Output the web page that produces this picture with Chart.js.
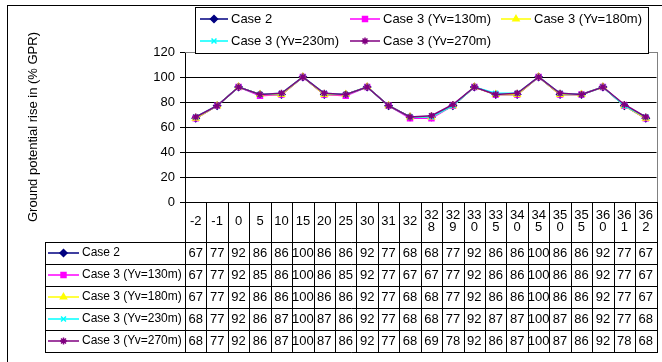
<!DOCTYPE html>
<html lang="en">
<head>
    <meta charset="UTF-8">
    <title>Ground potential rise</title>
    <script src="https://cdn.jsdelivr.net/npm/chart.js@4.4.1/dist/chart.umd.min.js"></script>
    <style>
        html, body { margin: 0; padding: 0; background: #fff; }
        canvas { display: block; }
    </style>
</head>
<body>
<canvas id="canvas" width="662" height="362"></canvas>
<script>
    // distance labels along the route
    var categories = ['-2', '-1', '0', '5', '10', '15', '20', '25', '30', '31', '32',
        '328', '329', '330', '335', '340', '345', '350', '355', '360', '361', '362'];

    var seriesNames = ['Case 2', 'Case 3 (Yv=130m)', 'Case 3 (Yv=180m)', 'Case 3 (Yv=230m)', 'Case 3 (Yv=270m)'];

    var case2  = [67, 77, 92, 86, 86, 100, 86, 86, 92, 77, 68, 68, 77, 92, 86, 86, 100, 86, 86, 92, 77, 67];
    var yv130  = [67, 77, 92, 85, 86, 100, 86, 85, 92, 77, 67, 67, 77, 92, 86, 86, 100, 86, 86, 92, 77, 67];
    var yv180  = [67, 77, 92, 86, 86, 100, 86, 86, 92, 77, 68, 68, 77, 92, 86, 86, 100, 86, 86, 92, 77, 67];
    var yv230  = [68, 77, 92, 86, 87, 100, 87, 86, 92, 77, 68, 68, 77, 92, 87, 87, 100, 87, 86, 92, 77, 68];
    var yv270  = [68, 77, 92, 86, 87, 100, 87, 86, 92, 77, 68, 69, 78, 92, 86, 87, 100, 87, 86, 92, 78, 68];

    var yTitle = 'Ground potential rise in (% GPR)';

    var FAMILY = '"Liberation Sans", Arial, sans-serif';
    var FONT = '13px ' + FAMILY;
    var colors = ['#000080', '#FF00FF', '#FFFF00', '#00FFFF', '#800080'];
    var markers = ['rectRot', 'rect', 'triangle', 'crossRot', 'star'];
    var values = [case2, yv130, yv180, yv230, yv270];

    var datasets = seriesNames.map(function(name, i) {
        return {
            label: name,
            data: values[i],
            borderColor: colors[i],
            backgroundColor: colors[i],
            borderWidth: 1.5,
            pointStyle: markers[i],
            pointRadius: 3.5,
            pointBorderWidth: 1.5,
            tension: 0,
            order: seriesNames.length - i   // last series ends up on top
        };
    });

    function drawKey(ctx, i, x1, x2, y) {
        ctx.save();
        ctx.strokeStyle = colors[i];
        ctx.fillStyle = colors[i];
        ctx.lineWidth = 1.5;
        ctx.beginPath();
        ctx.moveTo(x1, y);
        ctx.lineTo(x2, y);
        ctx.stroke();
        Chart.helpers.drawPoint(ctx, {pointStyle: markers[i], radius: 3.5, rotation: 0, borderWidth: 1.5}, (x1 + x2) / 2, y);
        ctx.restore();
    }

    function hline(ctx, x1, x2, y) {
        ctx.beginPath();
        ctx.moveTo(x1, Math.round(y) + 0.5);
        ctx.lineTo(x2, Math.round(y) + 0.5);
        ctx.stroke();
    }

    function vline(ctx, x, y1, y2) {
        ctx.beginPath();
        ctx.moveTo(Math.round(x) + 0.5, y1);
        ctx.lineTo(Math.round(x) + 0.5, y2);
        ctx.stroke();
    }

    // frame, legend box, axis title and the data table under the plot
    var sheetPlugin = {
        id: 'sheet',
        beforeDraw: function(chart) {
            var ctx = chart.ctx;
            ctx.save();
            ctx.fillStyle = '#fff';
            ctx.fillRect(0, 0, chart.width, chart.height);
            ctx.strokeStyle = '#000';
            ctx.lineWidth = 1;
            ctx.strokeRect(7.5, 5.5, chart.width + 10, chart.height + 10);
            ctx.restore();
        },
        afterDraw: function(chart) {
            var ctx = chart.ctx;
            var area = chart.chartArea;
            var xs = chart.scales.x;
            var colW = (area.right - area.left) / categories.length;
            var headTop = area.bottom, headBot = area.bottom + 40, rowH = 22;
            var tableLeft = 45;
            var tableBot = headBot + rowH * seriesNames.length;

            ctx.save();
            // plot area border (top and right)
            ctx.strokeStyle = '#808080';
            ctx.lineWidth = 1;
            hline(ctx, area.left, area.right + 1, area.top);
            vline(ctx, area.right, area.top, area.bottom);

            // table grid
            ctx.strokeStyle = '#000';
            for (var r = 0; r <= seriesNames.length; r++) {
                hline(ctx, tableLeft, area.right + 1, headBot + r * rowH);
            }
            vline(ctx, tableLeft, headBot, tableBot + 1);
            for (var c = 0; c <= categories.length; c++) {
                vline(ctx, area.left + c * colW, headTop, tableBot + 1);
            }

            // column headers, wrapped when the cell is too narrow
            ctx.fillStyle = '#000';
            ctx.font = FONT;
            ctx.textAlign = 'center';
            ctx.textBaseline = 'middle';
            categories.forEach(function(lab, j) {
                var cx = xs.getPixelForValue(j);
                if (lab.length > 2) {
                    ctx.fillText(lab.slice(0, 2), cx, headTop + 13);
                    ctx.fillText(lab.slice(2), cx, headTop + 25);
                } else {
                    ctx.fillText(lab, cx, headTop + 19);
                }
            });

            // table rows
            seriesNames.forEach(function(name, i) {
                var cy = headBot + i * rowH + rowH / 2;
                drawKey(ctx, i, 48, 79, cy);
                ctx.fillStyle = '#000';
                ctx.textAlign = 'left';
                ctx.font = '12px ' + FAMILY;
                ctx.fillText(name, 82, cy);
                ctx.font = FONT;
                ctx.textAlign = 'center';
                values[i].forEach(function(v, j) {
                    ctx.fillText(String(v), xs.getPixelForValue(j), cy);
                });
            });

            // legend box
            ctx.fillStyle = '#fff';
            ctx.fillRect(195, 7, 453, 46);
            ctx.strokeStyle = '#000';
            ctx.strokeRect(195.5, 7.5, 453, 46);
            var slots = [[200, 228, 231, 19], [350, 380, 383, 19], [501, 531, 534, 19],
                         [200, 228, 231, 41], [350, 380, 383, 41]];
            seriesNames.forEach(function(name, i) {
                var s = slots[i];
                drawKey(ctx, i, s[0], s[1], s[3]);
                ctx.fillStyle = '#000';
                ctx.textAlign = 'left';
                ctx.fillText(name, s[2], s[3]);
            });

            // y axis title
            ctx.translate(33, 127);
            ctx.rotate(-Math.PI / 2);
            ctx.textAlign = 'center';
            ctx.fillText(yTitle, 0, 0);
            ctx.restore();
        }
    };

    window.onload = function() {
        var ctx = document.getElementById('canvas').getContext('2d');
        window.myLine = new Chart(ctx, {
            type: 'line',
            data: {
                labels: categories,
                datasets: datasets
            },
            plugins: [sheetPlugin],
            options: {
                responsive: false,
                devicePixelRatio: 1,
                animation: false,
                layout: {
                    padding: {left: 0, top: 52, right: 2, bottom: 160}
                },
                plugins: {
                    legend: {display: false},
                    tooltip: {enabled: false}
                },
                scales: {
                    x: {
                        type: 'category',
                        offset: true,
                        ticks: {display: false},
                        grid: {display: false},
                        border: {display: true, color: '#000', width: 1},
                        afterFit: function(scale) { scale.height = 0; }
                    },
                    y: {
                        min: 0,
                        max: 120,
                        ticks: {
                            stepSize: 20,
                            color: '#000',
                            padding: 5,
                            font: {family: FAMILY, size: 13}
                        },
                        grid: {
                            color: function(c) { return c.tick && c.tick.value === 120 ? '#808080' : '#000'; },
                            tickColor: '#000',
                            tickLength: 5,
                            lineWidth: 1
                        },
                        border: {display: true, color: '#000', width: 1},
                        afterFit: function(scale) { scale.width = 185; }
                    }
                }
            }
        });
    };
</script>
</body>
</html>
